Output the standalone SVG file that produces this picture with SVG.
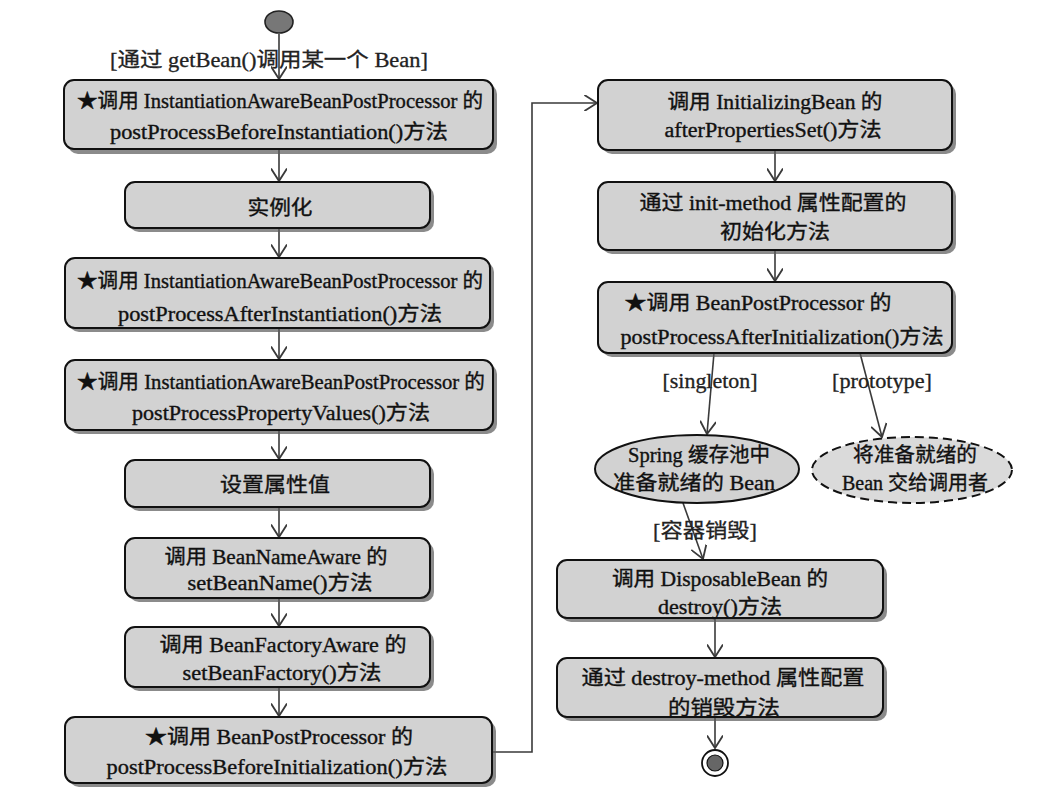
<svg xmlns="http://www.w3.org/2000/svg" width="1045" height="804" viewBox="0 0 1045 804">
<defs>
<marker id="arr" markerUnits="userSpaceOnUse" markerWidth="16" markerHeight="16" viewBox="0 0 12 14" refX="11" refY="7" orient="auto">
<path d="M0,0 L11,7 L0,14" fill="none" stroke="#3a3a3a" stroke-width="1.6"/>
</marker>
</defs>
<style>
.t{font-family:"Liberation Serif","Noto Sans CJK SC",serif;font-size:20px;fill:#111;stroke:#111;stroke-width:0.35;text-anchor:middle}
.lb{font-family:"Liberation Serif","Noto Sans CJK SC",serif;font-size:20px;fill:#222;stroke:#222;stroke-width:0.3;text-anchor:middle}
.box{fill:#d2d2d2;stroke:#111;stroke-width:2}
.sh{fill:#5a5a5a;opacity:0.7}
.c{fill:none;stroke:#3a3a3a;stroke-width:1.6;marker-end:url(#arr)}
</style>
<rect width="1045" height="804" fill="#ffffff"/>

<g id="connectors">
<path class="c" d="M279,34 V79"/>
<path class="c" d="M279,150 V181"/>
<path class="c" d="M279,228 V257"/>
<path class="c" d="M279,328 V359"/>
<path class="c" d="M279,430 V459"/>
<path class="c" d="M279,507 V537"/>
<path class="c" d="M279,598 V626"/>
<path class="c" d="M279,687 V716"/>
<path class="c" d="M492,752 H532 V103 H597"/>
<path class="c" d="M775,150 V181"/>
<path class="c" d="M775,250 V281"/>
<path class="c" d="M714,353 L707,434"/>
<path class="c" d="M860,353 L882,437"/>
<path class="c" d="M683,503 L703,559"/>
<path class="c" d="M715,618 V657"/>
<path class="c" d="M715,717 V748"/>
</g>

<g id="labels">
<text class="lb" x="269" y="67" textLength="318" lengthAdjust="spacingAndGlyphs">[通过 getBean()调用某一个 Bean]</text>
<text class="lb" x="710" y="388" textLength="95" lengthAdjust="spacingAndGlyphs">[singleton]</text>
<text class="lb" x="882" y="388" textLength="100" lengthAdjust="spacingAndGlyphs">[prototype]</text>
<text class="lb" x="705" y="538" textLength="104" lengthAdjust="spacingAndGlyphs">[容器销毁]</text>
</g>

<g id="start">
<ellipse cx="279" cy="22" rx="14" ry="11" fill="#777" stroke="#222" stroke-width="1.6"/>
</g>

<g id="n1">
<rect class="sh" x="68" y="84" width="429" height="70" rx="10"/>
<rect class="box" x="64" y="80" width="429" height="69" rx="10"/>
<text class="t" x="280" y="108" textLength="406" lengthAdjust="spacingAndGlyphs">★调用 InstantiationAwareBeanPostProcessor 的</text>
<text class="t" x="279" y="139" textLength="338" lengthAdjust="spacingAndGlyphs">postProcessBeforeInstantiation()方法</text>
</g>

<g id="n2">
<rect class="sh" x="129" y="186" width="305" height="46" rx="10"/>
<rect class="box" x="125" y="182" width="305" height="46" rx="10"/>
<text class="t" x="280" y="215" textLength="65" lengthAdjust="spacingAndGlyphs">实例化</text>
</g>

<g id="n3">
<rect class="sh" x="69" y="262" width="425" height="70" rx="10"/>
<rect class="box" x="65" y="258" width="425" height="70" rx="10"/>
<text class="t" x="280" y="288" textLength="406" lengthAdjust="spacingAndGlyphs">★调用 InstantiationAwareBeanPostProcessor 的</text>
<text class="t" x="280" y="321" textLength="324" lengthAdjust="spacingAndGlyphs">postProcessAfterInstantiation()方法</text>
</g>

<g id="n4">
<rect class="sh" x="69" y="364" width="428" height="70" rx="10"/>
<rect class="box" x="65" y="360" width="428" height="70" rx="10"/>
<text class="t" x="281" y="389" textLength="408" lengthAdjust="spacingAndGlyphs">★调用 InstantiationAwareBeanPostProcessor 的</text>
<text class="t" x="281" y="420" textLength="298" lengthAdjust="spacingAndGlyphs">postProcessPropertyValues()方法</text>
</g>

<g id="n5">
<rect class="sh" x="129" y="464" width="305" height="47" rx="10"/>
<rect class="box" x="125" y="460" width="305" height="47" rx="10"/>
<text class="t" x="275" y="492" textLength="110" lengthAdjust="spacingAndGlyphs">设置属性值</text>
</g>

<g id="n6">
<rect class="sh" x="129" y="542" width="305" height="60" rx="10"/>
<rect class="box" x="125" y="538" width="305" height="60" rx="10"/>
<text class="t" x="276" y="564" textLength="223" lengthAdjust="spacingAndGlyphs">调用 BeanNameAware 的</text>
<text class="t" x="280" y="590" textLength="185" lengthAdjust="spacingAndGlyphs">setBeanName()方法</text>
</g>

<g id="n7">
<rect class="sh" x="129" y="631" width="305" height="60" rx="10"/>
<rect class="box" x="125" y="627" width="305" height="60" rx="10"/>
<text class="t" x="283" y="652" textLength="247" lengthAdjust="spacingAndGlyphs">调用 BeanFactoryAware 的</text>
<text class="t" x="282" y="680" textLength="199" lengthAdjust="spacingAndGlyphs">setBeanFactory()方法</text>
</g>

<g id="n8">
<rect class="sh" x="69" y="721" width="427" height="66" rx="10"/>
<rect class="box" x="65" y="717" width="427" height="66" rx="10"/>
<text class="t" x="279" y="744" textLength="268" lengthAdjust="spacingAndGlyphs">★调用 BeanPostProcessor 的</text>
<text class="t" x="277" y="774" textLength="341" lengthAdjust="spacingAndGlyphs">postProcessBeforeInitialization()方法</text>
</g>

<g id="r1">
<rect class="sh" x="602" y="84" width="354" height="70" rx="10"/>
<rect class="box" x="598" y="80" width="354" height="70" rx="10"/>
<text class="t" x="775" y="109" textLength="215" lengthAdjust="spacingAndGlyphs">调用 InitializingBean 的</text>
<text class="t" x="773" y="137" textLength="217" lengthAdjust="spacingAndGlyphs">afterPropertiesSet()方法</text>
</g>

<g id="r2">
<rect class="sh" x="602" y="186" width="354" height="68" rx="10"/>
<rect class="box" x="598" y="182" width="354" height="68" rx="10"/>
<text class="t" x="773" y="210" textLength="267" lengthAdjust="spacingAndGlyphs">通过 init-method 属性配置的</text>
<text class="t" x="775" y="239" textLength="110" lengthAdjust="spacingAndGlyphs">初始化方法</text>
</g>

<g id="r3">
<rect class="sh" x="602" y="286" width="354" height="71" rx="10"/>
<rect class="box" x="598" y="282" width="354" height="71" rx="10"/>
<text class="t" x="758" y="310" textLength="267" lengthAdjust="spacingAndGlyphs">★调用 BeanPostProcessor 的</text>
<text class="t" x="782" y="344" textLength="323" lengthAdjust="spacingAndGlyphs">postProcessAfterInitialization()方法</text>
</g>

<g id="e1">
<ellipse cx="697" cy="469" rx="102" ry="34" fill="#d2d2d2" stroke="#111" stroke-width="2"/>
<text class="t" x="699" y="462" textLength="142" lengthAdjust="spacingAndGlyphs">Spring 缓存池中</text>
<text class="t" x="694" y="490" textLength="162" lengthAdjust="spacingAndGlyphs">准备就绪的 Bean</text>
</g>

<g id="e2">
<ellipse cx="912" cy="470" rx="100" ry="33" fill="#dadada" stroke="#111" stroke-width="2" stroke-dasharray="9,5"/>
<text class="t" x="915" y="462" textLength="124" lengthAdjust="spacingAndGlyphs">将准备就绪的</text>
<text class="t" x="915" y="490" textLength="146" lengthAdjust="spacingAndGlyphs">Bean 交给调用者</text>
</g>

<g id="d1">
<rect class="sh" x="561" y="564" width="326" height="58" rx="10"/>
<rect class="box" x="557" y="560" width="326" height="58" rx="10"/>
<text class="t" x="720" y="586" textLength="216" lengthAdjust="spacingAndGlyphs">调用 DisposableBean 的</text>
<text class="t" x="720" y="614" textLength="124" lengthAdjust="spacingAndGlyphs">destroy()方法</text>
</g>

<g id="d2">
<rect class="sh" x="561" y="662" width="326" height="59" rx="10"/>
<rect class="box" x="557" y="658" width="326" height="59" rx="10"/>
<text class="t" x="723" y="685" textLength="283" lengthAdjust="spacingAndGlyphs">通过 destroy-method 属性配置</text>
<text class="t" x="724" y="715" textLength="112" lengthAdjust="spacingAndGlyphs">的销毁方法</text>
</g>

<g id="end">
<circle cx="715" cy="763" r="13" fill="#fff" stroke="#111" stroke-width="1.8"/>
<circle cx="715" cy="763" r="8" fill="#666" stroke="#111" stroke-width="1.2"/>
</g>
</svg>
